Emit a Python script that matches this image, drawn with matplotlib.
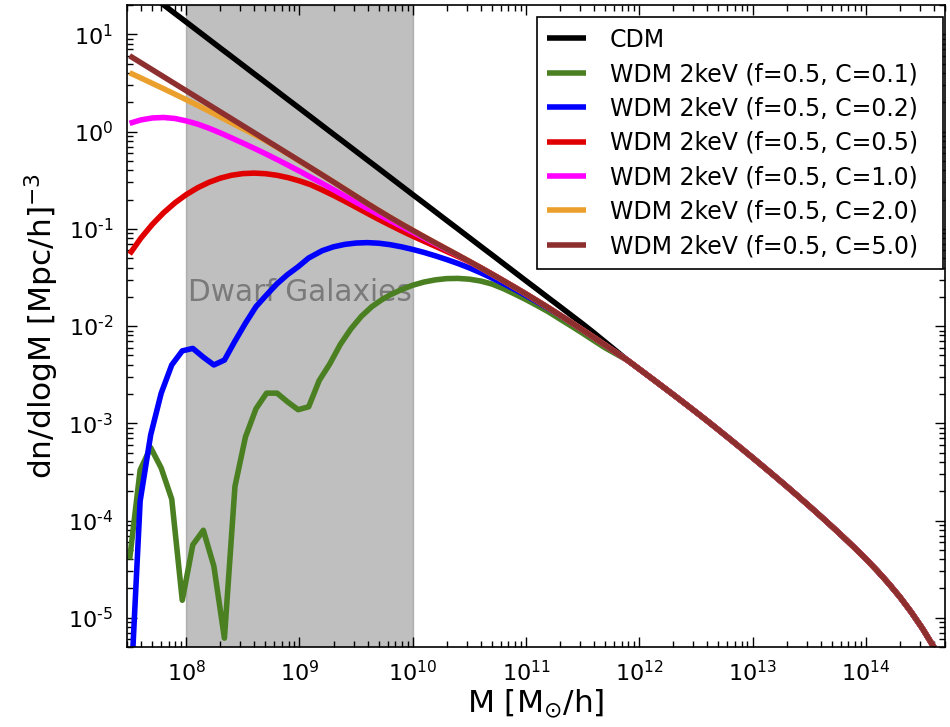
import numpy as np
import matplotlib
matplotlib.use("Agg")
import matplotlib.pyplot as plt
from matplotlib.ticker import LogLocator, FuncFormatter, NullFormatter

# log10(M [Msun/h]) for the smooth curves, 10^7.5 .. 10^11.8
smooth_logm = [7.5, 7.6, 7.7, 7.8, 7.9, 8.0, 8.1, 8.2, 8.3, 8.4, 8.5, 8.6,
               8.7, 8.8, 8.9, 9.0, 9.1, 9.2, 9.3, 9.4, 9.5, 9.6, 9.7, 9.8,
               9.9, 10.0, 10.1, 10.2, 10.3, 10.4, 10.5, 10.6, 10.7, 10.8,
               10.9, 11.0, 11.1, 11.2, 11.3, 11.4, 11.5, 11.6, 11.7, 11.8]

# high-mass end, where every model follows CDM
tail_logm = [11.9, 12.0, 12.1, 12.2, 12.3, 12.4, 12.5, 12.6, 12.7, 12.8,
             12.9, 13.0, 13.1, 13.2, 13.3, 13.4, 13.5, 13.6, 13.7, 13.8,
             13.9, 14.0, 14.1, 14.2, 14.3, 14.4, 14.5, 14.6, 14.7]
tail_logn = [-2.355, -2.442, -2.529, -2.617, -2.705, -2.794, -2.884, -2.975,
             -3.068, -3.162, -3.257, -3.353, -3.450, -3.548, -3.647, -3.748,
             -3.850, -3.954, -4.060, -4.168, -4.279, -4.394, -4.515, -4.645,
             -4.785, -4.940, -5.110, -5.300, -5.510]

# log10(dn/dlogM) on smooth_logm
cdm_logn = [1.570, 1.481, 1.393, 1.304, 1.215, 1.127, 1.038, 0.949, 0.860,
            0.772, 0.683, 0.594, 0.506, 0.417, 0.328, 0.240, 0.151, 0.062,
            -0.027, -0.115, -0.204, -0.293, -0.381, -0.470, -0.559, -0.648,
            -0.736, -0.825, -0.914, -1.002, -1.091, -1.180, -1.268, -1.357,
            -1.446, -1.535, -1.623, -1.712, -1.800, -1.889, -1.978, -2.070,
            -2.165, -2.260]
c50_logn = [0.780, 0.708, 0.636, 0.564, 0.492, 0.420, 0.348, 0.276, 0.204,
            0.132, 0.060, -0.012, -0.084, -0.156, -0.228, -0.300, -0.372,
            -0.445, -0.518, -0.592, -0.666, -0.740, -0.812, -0.882, -0.950,
            -1.016, -1.081, -1.145, -1.208, -1.271, -1.335, -1.400, -1.466,
            -1.533, -1.601, -1.670, -1.741, -1.813, -1.887, -1.963, -2.040,
            -2.118, -2.197, -2.276]
# the warmer models below follow C=5.0 once they have joined it
c20_low = [0.605, 0.551, 0.496, 0.441, 0.385, 0.328, 0.270, 0.211, 0.151,
           0.090, 0.030, -0.030, -0.092, -0.160, -0.231, -0.303, -0.375]
c10_low = [0.085, 0.120, 0.140, 0.145, 0.135, 0.110, 0.077, 0.035, -0.013,
           -0.065, -0.118, -0.172, -0.228, -0.286, -0.346, -0.407, -0.470,
           -0.533, -0.597, -0.662, -0.727, -0.790, -0.853, -0.915, -0.975,
           -1.035, -1.095, -1.155, -1.214, -1.274, -1.337]
c05_low = [-1.260, -1.095, -0.955, -0.835, -0.733, -0.648, -0.578, -0.522,
           -0.479, -0.449, -0.432, -0.427, -0.433, -0.449, -0.474, -0.507,
           -0.547, -0.600, -0.656, -0.716, -0.778, -0.841, -0.903, -0.962,
           -1.020, -1.075, -1.128, -1.180, -1.232, -1.285, -1.340]

# C=0.2 and C=0.1 are sampled on their own grids
c02_logm = [7.5, 7.593, 7.686, 7.779, 7.872, 7.965, 8.058, 8.151, 8.244,
            8.337, 8.43, 8.523, 8.616, 8.709, 8.802, 8.895, 8.988, 9.081,
            9.2, 9.3, 9.4, 9.5, 9.6, 9.7, 9.8, 9.9, 10.0, 10.1, 10.2, 10.3,
            10.4, 10.5, 10.6, 10.7, 10.8, 10.9, 11.0, 11.1, 11.2, 11.3, 11.4,
            11.5, 11.6, 11.7, 11.8]
c02_logn = [-6.0, -3.8, -3.12, -2.69, -2.40, -2.255, -2.23, -2.32, -2.40,
            -2.35, -2.155, -1.97, -1.80, -1.68, -1.565, -1.47, -1.39, -1.30,
            -1.225, -1.185, -1.160, -1.146, -1.142, -1.148, -1.163, -1.185,
            -1.212, -1.243, -1.278, -1.316, -1.357, -1.402, -1.452, -1.506,
            -1.563, -1.623, -1.686, -1.752, -1.820, -1.890, -1.965, -2.042,
            -2.120, -2.198, -2.277]

c01_logm = [7.5, 7.593, 7.686, 7.779, 7.872, 7.965, 8.058, 8.151, 8.244,
            8.337, 8.43, 8.523, 8.616, 8.709, 8.802, 8.895, 8.988, 9.081,
            9.174, 9.267, 9.36, 9.453, 9.546, 9.639, 9.732, 9.8, 9.9, 10.0,
            10.1, 10.2, 10.3, 10.4, 10.5, 10.6, 10.7, 10.8, 10.9, 11.0, 11.1,
            11.2, 11.3, 11.4, 11.5, 11.6, 11.7, 11.8]
c01_logn = [-4.40, -3.48, -3.25, -3.46, -3.78, -4.82, -4.25, -4.10, -4.47,
            -5.21, -3.65, -3.14, -2.85, -2.69, -2.69, -2.78, -2.86, -2.83,
            -2.56, -2.39, -2.19, -2.03, -1.90, -1.80, -1.725, -1.680, -1.625,
            -1.580, -1.547, -1.525, -1.512, -1.510, -1.518, -1.537, -1.568,
            -1.615, -1.670, -1.728, -1.790, -1.855, -1.928, -2.000, -2.074,
            -2.150, -2.225, -2.290]

c20_logn = c20_low + c50_logn[len(c20_low):]
c10_logn = c10_low + c50_logn[len(c10_low):]
c05_logn = c05_low + c50_logn[len(c05_low):]

x_decades = [8, 9, 10, 11, 12, 13, 14]
y_decades = [-5, -4, -3, -2, -1, 0, 1]

labels = ["CDM"] + ["WDM 2keV (f=0.5, C=%s)" % c
                    for c in ["0.1", "0.2", "0.5", "1.0", "2.0", "5.0"]]
colors = ["black", "#4a8022", "#0000ff", "#e00000", "#ff00ff", "#eba02d",
          "#8e2f2f"]

series = [
    (smooth_logm, cdm_logn),
    (c01_logm, c01_logn),
    (c02_logm, c02_logn),
    (smooth_logm, c05_logn),
    (smooth_logm, c10_logn),
    (smooth_logm, c20_logn),
    (smooth_logm, c50_logn),
]

fig = plt.figure(figsize=(9.5, 7.27), dpi=100)
ax = fig.add_axes([0.1337, 0.110, 0.861, 0.883])

ax.axvspan(1e8, 1e10, color="gray", alpha=0.5, zorder=1)
ax.text(1.04e8, 0.022, "Dwarf Galaxies", fontsize=21.3, color="0.48",
        va="center", ha="left", zorder=1.5)

for (lm, ln), col, lab in zip(series, colors, labels):
    m = 10 ** np.array(lm + tail_logm)
    n = 10 ** np.array(ln + tail_logn)
    ax.plot(m, n, color=col, lw=4, label=lab, zorder=2,
            solid_joinstyle="round", solid_capstyle="butt")

ax.set_xscale("log")
ax.set_yscale("log")
ax.set_xlim(3e7, 5e14)
ax.set_ylim(5e-6, 20)


def power_label(v, pos):
    e = int(round(np.log10(v)))
    s = str(e).replace("-", r"\text{-}")
    return r"$10^{%s}$" % s


ax.set_xticks([10.0 ** d for d in x_decades])
ax.set_yticks([10.0 ** d for d in y_decades])
for axis in (ax.xaxis, ax.yaxis):
    axis.set_minor_locator(LogLocator(base=10, subs=np.arange(2, 10),
                                      numticks=20))
    axis.set_major_formatter(FuncFormatter(power_label))
    axis.set_minor_formatter(NullFormatter())

ax.tick_params(which="both", direction="in", top=True, right=True,
               labelsize=16, width=1)
ax.tick_params(which="major", length=7)
ax.tick_params(which="minor", length=4)
ax.tick_params(axis="x", pad=9)
ax.tick_params(axis="y", pad=10)
for sp in ax.spines.values():
    sp.set_linewidth(1.2)

ax.set_xlabel(r"M [M$_{\odot}$/h]", fontsize=22.5, labelpad=2)
ax.set_ylabel(r"dn/dlogM [Mpc/h]$^{-3}$", fontsize=22.5, labelpad=5)

# legend box stretched to a fixed width in the upper right corner
leg = ax.legend(loc="upper right", bbox_to_anchor=(0.501, 0.5, 0.4966, 0.4813),
                mode="expand", borderaxespad=0, fontsize=17,
                handlelength=1.65, handletextpad=1.0, labelspacing=0.44,
                borderpad=0.45, fancybox=False, framealpha=1,
                edgecolor="black")
leg.get_frame().set_linewidth(1.2)

fig.savefig("out.png", dpi=100)
